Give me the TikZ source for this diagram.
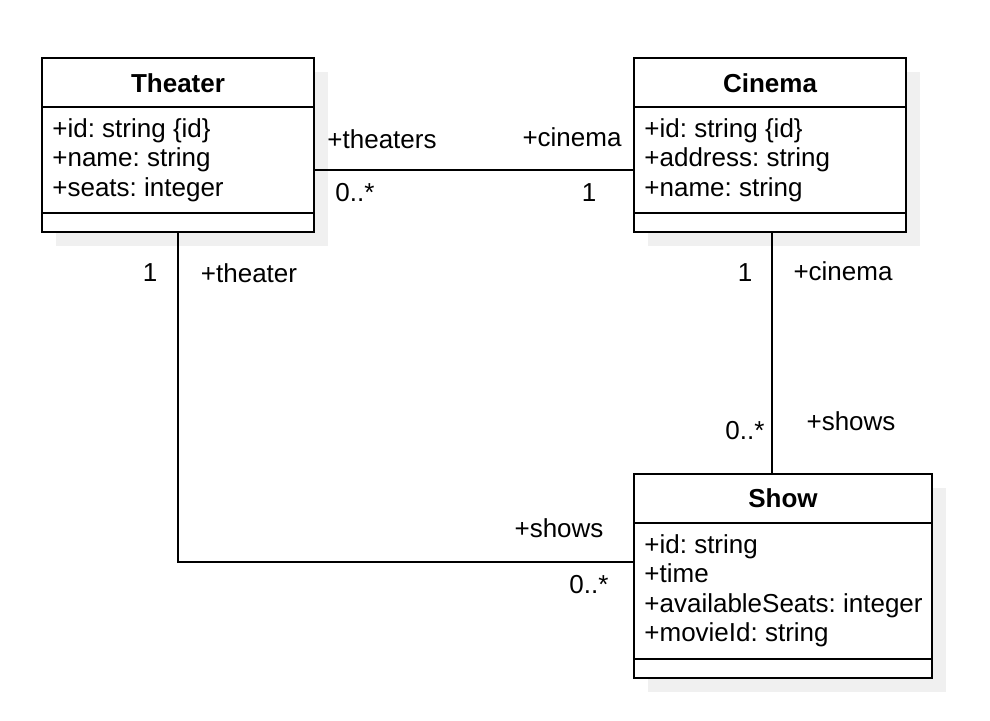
\documentclass[tikz,border=0pt]{standalone}
\usepackage{fontspec}
\setmainfont{Liberation Sans}
\usetikzlibrary{shadows}
\frenchspacing

\newcommand{\letra}{\fontsize{13}{14.75}\selectfont}

\tikzset{
  clase/.style={draw, line width=1pt, fill=white, inner sep=0pt,
    drop shadow={shadow xshift=7pt, shadow yshift=-7pt, fill=black!6, opacity=1}},
  titulo/.style={font=\letra\bfseries, inner sep=0pt},
  atributos/.style={anchor=west, align=left, inner sep=0pt},
  rol/.style={inner sep=0pt},
  enlace/.style={line width=0.8pt},
}

\begin{document}
\begin{tikzpicture}[x=0.5pt, y=-0.5pt, font=\letra]
    \useasboundingbox (0,0) rectangle (990,720);

    %Clases
    \node[clase, minimum width=136pt, minimum height=87pt] (theater) at (178,145) {};
    \node[clase, minimum width=136pt, minimum height=87pt] (cinema) at (770,145) {};
    \node[clase, minimum width=149pt, minimum height=102pt] (show) at (783,576) {};

    \draw[line width=1pt] (theater.west |- 0,107) -- (theater.east |- 0,107);
    \draw[line width=1pt] (theater.west |- 0,213) -- (theater.east |- 0,213);
    \draw[line width=1pt] (cinema.west |- 0,107) -- (cinema.east |- 0,107);
    \draw[line width=1pt] (cinema.west |- 0,213) -- (cinema.east |- 0,213);
    \draw[line width=1pt] (show.west |- 0,523) -- (show.east |- 0,523);
    \draw[line width=1pt] (show.west |- 0,659) -- (show.east |- 0,659);

    \node[titulo] (theaterT) at (178,83) {Theater};
    \node[titulo] (cinemaT) at (770,83) {Cinema};
    \node[titulo] (showT) at (783,498) {Show};

    \node[atributos] (theaterA) at (52,160) {+id: string \{id\}\\+name: string\\+seats: integer};
    \node[atributos] (cinemaA) at (644,160) {+id: string \{id\}\\+address: string\\+name: string};
    \node[atributos] (showA) at (644,591) {+id: string\\+time\\+availableSeats: integer\\+movieId: string};

    %Asociaciones
    \draw[enlace] ([yshift=-12.5pt]theater.east) -- ([yshift=-12.5pt]cinema.west);
    \draw[enlace] (theater.south) |- ([yshift=7pt]show.west);
    \draw[enlace] ([xshift=1pt]cinema.south) -- ([xshift=1pt]cinema.south |- show.north);

    \node[rol] (r1) at (382,139) {+theaters};
    \node[rol] (r2) at (355,193) {0..*};
    \node[rol] (r3) at (572,137) {+cinema};
    \node[rol] (r4) at (589,193) {1};

    \node[rol] (r5) at (150,273) {1};
    \node[rol] (r6) at (249,273) {+theater};
    \node[rol] (r7) at (559,528) {+shows};
    \node[rol] (r8) at (589,585) {0..*};

    \node[rol] (r9) at (745,273) {1};
    \node[rol] (r10) at (843,271) {+cinema};
    \node[rol] (r11) at (745,431) {0..*};
    \node[rol] (r12) at (851,421) {+shows};

\end{tikzpicture}
\end{document}
